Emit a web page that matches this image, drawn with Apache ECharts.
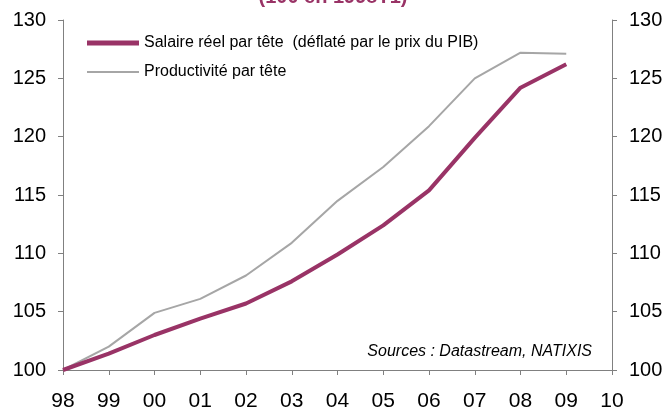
<!DOCTYPE html>
<html>
<head>
<meta charset="utf-8">
<script src="https://cdn.jsdelivr.net/npm/echarts@6/dist/echarts.min.js"></script>
<style>
  html, body { margin: 0; padding: 0; background: #fff; }
  #main { width: 666px; height: 412px; }
</style>
</head>
<body>
<div id="main"></div>
<script>
// données (100 en 1998)
const years = ['98', '99', '00', '01', '02', '03', '04', '05', '06', '07', '08', '09', '10']
const salaire = [100, 101.4, 103.0, 104.4, 105.7, 107.6, 109.9, 112.4, 115.4, 119.9, 124.2, 126.2]
const productivite = [100, 102.0, 104.9, 106.1, 108.1, 110.9, 114.5, 117.4, 120.9, 125.0, 127.2, 127.1]

const axisColor = '#808080'
const font = 'Liberation Sans, Arial, sans-serif'
const nomSalaire = 'Salaire réel par tête  (déflaté par le prix du PIB)'
const nomProd = 'Productivité par tête'

let yAxisBase = {
  type: 'value',
  min: 100,
  max: 130,
  interval: 5,
  axisLine: {show: true, lineStyle: {color: axisColor, width: 1}},
  axisTick: {show: true, length: 5, lineStyle: {color: axisColor}},
  splitLine: {show: false},
  axisLabel: {color: '#000', fontSize: 20, fontFamily: font, margin: 17}
}

let option = {
  animation: false,
  backgroundColor: '#fff',
  title: {
    text: '(100 en 1998T1)',
    left: 'center',
    top: -18,
    textStyle: {color: '#993366', fontSize: 20, fontWeight: 'bold', fontFamily: font}
  },
  legend: {
    orient: 'vertical',
    left: 82,
    top: 30,
    itemWidth: 52,
    itemHeight: 14,
    itemGap: 13,
    textStyle: {color: '#000', fontSize: 16, fontFamily: font},
    data: [
      {name: nomSalaire, icon: 'path://M0,0H52V5H0Z'},
      {name: nomProd, icon: 'path://M0,0H52V2H0Z'}
    ]
  },
  grid: {left: 63, right: 54, top: 20, bottom: 40},
  xAxis: {
    type: 'category',
    boundaryGap: false,
    data: years,
    axisLine: {lineStyle: {color: axisColor}},
    axisTick: {show: true, length: 5, interval: 0, lineStyle: {color: axisColor}},
    axisLabel: {color: '#000', fontSize: 21, fontFamily: font, margin: 21, interval: 0}
  },
  yAxis: [
    Object.assign({}, yAxisBase, {position: 'left'}),
    Object.assign({}, yAxisBase, {position: 'right'})
  ],
  graphic: [{
    type: 'text',
    right: 74,
    top: 344,
    style: {
      text: 'Sources : Datastream, NATIXIS',
      fill: '#000',
      font: 'italic 16px ' + font
    }
  }],
  series: [
    {
      name: nomProd,
      type: 'line',
      data: productivite,
      symbol: 'none',
      lineStyle: {color: '#a6a6a6', width: 2},
      itemStyle: {color: '#a6a6a6'},
      z: 2
    },
    {
      name: nomSalaire,
      type: 'line',
      data: salaire,
      symbol: 'none',
      lineStyle: {color: '#993366', width: 4},
      itemStyle: {color: '#993366'},
      z: 3
    }
  ]
}

let myChart = echarts.init(document.getElementById('main'))
myChart.setOption(option)
</script>
</body>
</html>
